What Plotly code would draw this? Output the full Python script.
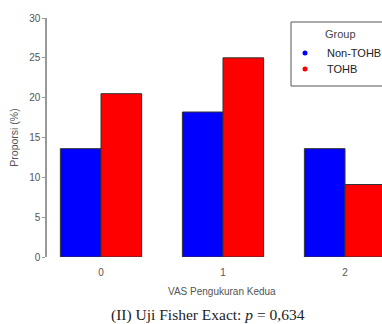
import plotly.graph_objects as go

categories = [0, 1, 2]
tick_labels = ["0", "1", "2"]
non_tohb = [13.6, 18.2, 13.6]
tohb = [20.5, 25.0, 9.1]
groups = ["Non-TOHB", "TOHB"]
colors = ["#0000FF", "#FF0000"]


def px(x):
    return (x - 47) / 335


def py(y):
    return (257 - y) / 239


fig = go.Figure()
for name, vals, col in zip(groups, [non_tohb, tohb], colors):
    fig.add_trace(go.Bar(
        x=categories, y=vals, name=name, showlegend=False,
        marker=dict(color=col, line=dict(color="#333333", width=1)),
    ))

shapes = [dict(type="rect", xref="paper", yref="paper",
               x0=px(291), x1=px(400), y0=py(86), y1=py(22),
               line=dict(color="#555555", width=1), fillcolor="white", layer="above")]
annotations = [
    dict(text="Group", xref="paper", yref="paper", x=px(323), y=py(34),
         xanchor="left", yanchor="middle", showarrow=False,
         font=dict(size=11, color="#444444")),
]
for i, (name, col) in enumerate(zip(groups, colors)):
    yy = 53 + i * 16
    shapes.append(dict(type="circle", xref="paper", yref="paper",
                       x0=px(302.5), x1=px(307.5), y0=py(yy + 2.5), y1=py(yy - 2.5),
                       line=dict(width=0), fillcolor=col, layer="above"))
    annotations.append(dict(text=name, xref="paper", yref="paper", x=px(325), y=py(yy),
                            xanchor="left", yanchor="middle", showarrow=False,
                            font=dict(size=11, color="#222222")))

annotations += [
    dict(text="VAS Pengukuran Kedua", xref="paper", yref="paper",
         x=px(222), y=py(291), xanchor="center", yanchor="middle",
         showarrow=False, font=dict(size=10, color="#555555")),
    dict(text="(II) Uji Fisher Exact: <i>p</i> = 0,634", xref="paper", yref="paper",
         x=px(208), y=py(315), xanchor="center", yanchor="middle",
         showarrow=False, font=dict(family="Liberation Serif, Times New Roman, serif", size=15.5, color="#222222")),
]

fig.update_layout(
    width=382, height=324,
    margin=dict(l=47, r=0, t=18, b=67),
    paper_bgcolor="white", plot_bgcolor="white",
    barmode="group", bargap=0.334, bargroupgap=0,
    showlegend=False,
    font=dict(family="Liberation Sans, Arial, sans-serif", size=9, color="#555555"),
    xaxis=dict(
        range=[-(101 - 47) / 122, (382 - 101) / 122],
        tickvals=categories, ticktext=tick_labels,
        showline=False, showgrid=False, zeroline=False,
        ticks="outside", ticklen=6, tickcolor="rgba(0,0,0,0)",
        tickfont=dict(size=10, color="#555555"),
    ),
    yaxis=dict(
        range=[0, 30], tickvals=[0, 5, 10, 15, 20, 25, 30],
        showline=True, linecolor="#999999", linewidth=1.5,
        showgrid=False, zeroline=False,
        ticks="outside", ticklen=3, tickcolor="#999999", tickwidth=1,
        tickfont=dict(size=10, color="#555555"),
        title=dict(text="Proporsi (%)", font=dict(size=10.5, color="#555555"), standoff=8),
    ),
    shapes=shapes,
    annotations=annotations,
)

fig.write_html("out.html")
